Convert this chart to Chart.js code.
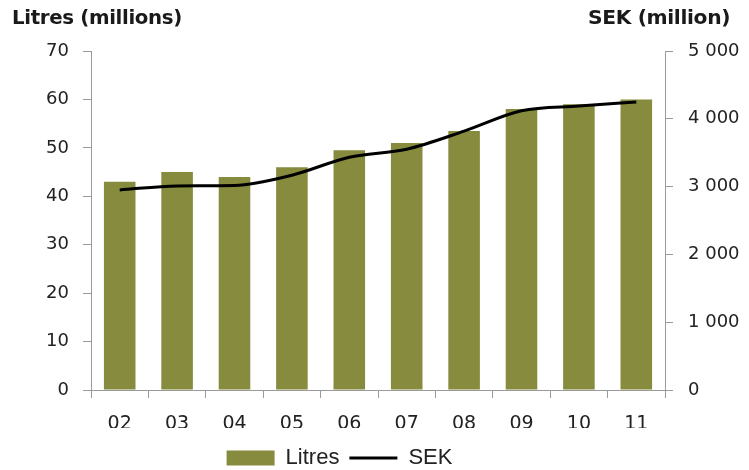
<!DOCTYPE html>
<html><head><meta charset="utf-8">
<script src="https://cdn.jsdelivr.net/npm/chart.js@4"></script>
<style>
html,body{margin:0;padding:0;background:#fff;}
#wrap{position:relative;width:749px;height:470px;overflow:hidden;}
canvas{position:absolute;left:0;top:0;}
.ttl{position:absolute;top:6px;font-family:"DejaVu Sans Condensed","DejaVu Sans",sans-serif;font-weight:bold;font-size:19px;color:#1a1a1a;white-space:nowrap;transform-origin:0 0;letter-spacing:-0.3px;}
</style></head>
<body><div id="wrap"><canvas id="c" width="749" height="470"></canvas>
<div class="ttl" id="t1" style="left:12px">Litres (millions)</div>
<div class="ttl" id="t2" style="left:588px">SEK (million)</div></div>
<script>
const categories = ['02','03','04','05','06','07','08','09','10','11'];
const litres = [43, 45, 44, 46, 49.5, 51, 53.5, 58, 59, 60];
const sek = [2950, 3010, 3016, 3168, 3434, 3552, 3818, 4118, 4188, 4247];
const leftRange = [0, 70, 10];
const rightRange = [0, 5000, 1000];

const barColor = '#868B3E';
const axisColor = '#9a9a9a';
const tickFont = {family: '"DejaVu Sans", sans-serif', size: 18};
const xFont = {family: '"DejaVu Sans", sans-serif', size: 19};

function fmt(v){ return String(v).replace(/\B(?=(\d{3})+(?!\d))/g, ' '); }

const legendShift = {id:'legendShift', afterLayout(chart){ const l = chart.legend; if(l){ l.left -= 35; l.right -= 35; l.top += 9; l.bottom += 9; } }};

new Chart(document.getElementById('c'), {
  type: 'bar',
  data: {
    labels: categories,
    datasets: [
      {type:'line', label:'SEK', data: sek, yAxisID:'y1', borderColor:'#000', backgroundColor:'#000', borderWidth:3, pointRadius:0, cubicInterpolationMode:'monotone', order:0},
      {type:'bar', label:'Litres', data: litres, yAxisID:'y', backgroundColor: barColor, borderWidth:0, barPercentage:0.55, categoryPercentage:1, order:1}
    ]
  },
  options: {
    responsive:false, animation:false,
    layout:{padding:{top:51, left:0, right:0, bottom:0}},
    plugins:{
      tooltip:{enabled:false},
      legend:{
        position:'bottom',
        labels:{
          usePointStyle:true, pointStyleWidth:48, boxHeight:15, padding:10,
          font:{family:'"Liberation Sans", Arial, sans-serif', size:22}, color:'#222',
          generateLabels(){ return [
            {text:'Litres', fillStyle:barColor, strokeStyle:barColor, lineWidth:0, pointStyle:'rect', datasetIndex:1, hidden:false, fontColor:'#222'},
            {text:'SEK', fillStyle:'#000', strokeStyle:'#000', lineWidth:3, pointStyle:'line', datasetIndex:0, hidden:false, fontColor:'#222'}
          ]; }
        }
      }
    },
    scales:{
      x:{
        grid:{drawOnChartArea:false, drawTicks:true, tickLength:8, color:axisColor, offset:true},
        border:{display:true, color:axisColor, width:1},
        ticks:{font:xFont, color:'#222', padding:15, maxRotation:0},
        afterFit(s){ s.height = 38; }
      },
      y:{
        position:'left', min:leftRange[0], max:leftRange[1],
        ticks:{stepSize:leftRange[2], font:tickFont, color:'#222', padding:14},
        grid:{drawOnChartArea:false, drawTicks:true, tickLength:8, color:axisColor},
        border:{display:true, color:axisColor, width:1},
        afterFit(s){ s.width = 91; }
      },
      y1:{
        position:'right', min:rightRange[0], max:rightRange[1],
        ticks:{stepSize:rightRange[2], font:tickFont, color:'#222', padding:15, callback:(v)=>fmt(v)},
        grid:{drawOnChartArea:false, drawTicks:true, tickLength:8, color:axisColor},
        border:{display:true, color:axisColor, width:1},
        afterFit(s){ s.width = 84; }
      }
    }
  },
  plugins:[legendShift]
});

function fit(id, w){ const el = document.getElementById(id); const cw = el.scrollWidth; el.style.transform = 'scaleX(' + (w/cw) + ')'; }
fit('t1', 170); fit('t2', 142);
</script>
</body></html>
